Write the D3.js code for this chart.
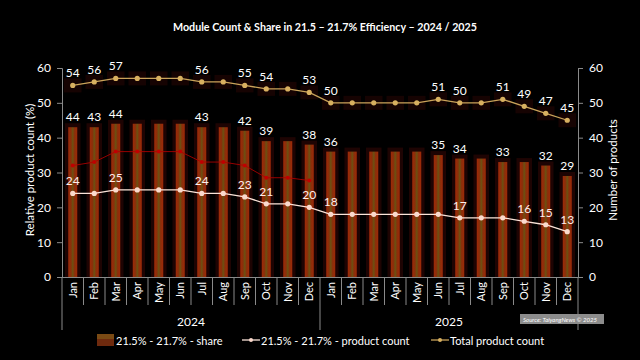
<!DOCTYPE html>
<html><head><meta charset="utf-8">
<script src="https://cdn.jsdelivr.net/npm/d3@7"></script>
<style>html,body{margin:0;padding:0;background:#000;}svg{display:block;}text{font-family:Lato,"Open Sans",sans-serif;}</style>
</head><body>
<svg id="c" width="640" height="360"></svg>
<script>
const months = ["Jan","Feb","Mar","Apr","May","Jun","Jul","Aug","Sep","Oct","Nov","Dec"];
const years = ["2024","2025"];
const shareValues = [43,43,44,44,44,44,43,43,42,39,39,38, 36,36,36,36,36,35,34,34,33,33,32,29];
const shareLabels = ["44","43","44",null,null,null,"43",null,"42","39",null,"38", "36",null,null,null,null,"35","34",null,"33",null,"32","29"];
const countValues = [24,24,25,25,25,25,24,24,23,21,21,20, 18,18,18,18,18,18,17,17,17,16,15,13];
const countLabels = ["24",null,"25",null,null,null,"24",null,"23","21",null,"20", "18",null,null,null,null,null,"17",null,null,"16","15","13"];
const totalValues = [55,56,57,57,57,57,56,56,55,54,54,53, 50,50,50,50,50,51,50,50,51,49,47,45];
const totalLabels = ["54","56","57",null,null,null,"56",null,"55","54",null,"53", "50",null,null,null,null,"51","50",null,"51","49","47","45"];
const ghostValues = [32,33,36,36,36,36,33,33,32,28.5,28.5,27.7];
const yTicks = [0,10,20,30,40,50,60];

const svg = d3.select("#c");
const W = 640, H = 360;
svg.append("rect").attr("width",W).attr("height",H).attr("fill","#000");

const cats = d3.range(24);
const x = d3.scaleBand().domain(cats).range([62,578]).paddingInner(0).paddingOuter(0);
const y = d3.scaleLinear().domain([0,60]).range([277,68]);
const y2 = d3.scaleLinear().domain([0,60]).range([277,68]);
const cx = i => x(i) + x.bandwidth()/2;

const defs = svg.append("defs");
const g = defs.append("linearGradient").attr("id","barg").attr("x1","0").attr("x2","1").attr("y1","0").attr("y2","0");
g.append("stop").attr("offset","0%").attr("stop-color","#a02808");
g.append("stop").attr("offset","30%").attr("stop-color","#8a300a");
g.append("stop").attr("offset","50%").attr("stop-color","#6a5212");
g.append("stop").attr("offset","70%").attr("stop-color","#8a300a");
g.append("stop").attr("offset","100%").attr("stop-color","#a02808");

// title
svg.append("text").attr("x",325).attr("y",31).attr("text-anchor","middle")
  .attr("fill","#fff").attr("font-size",10.7).attr("font-weight","bold")
  .text("Module Count & Share in 21.5 – 21.7% Efficiency – 2024 / 2025");

// halos behind total points
svg.append("g").selectAll("rect").data(totalValues).join("rect")
  .attr("x",(d,i)=>x(i)+2).attr("width",x.bandwidth()-4)
  .attr("y",d=>y2(d)-7).attr("height",14).attr("fill","#160302");

// bar halos
svg.append("g").selectAll("rect").data(shareValues).join("rect")
  .attr("x",(d,i)=>x(i)+3).attr("width",x.bandwidth()-6)
  .attr("y",d=>y(d)-4).attr("height",d=>y(0)-y(d)+4).attr("fill","#1e0403");
// bars
const bw = 9;
svg.append("g").selectAll("rect").data(shareValues).join("rect")
  .attr("x",(d,i)=>cx(i)-bw/2).attr("width",bw)
  .attr("y",d=>y(d)).attr("height",d=>y(0)-y(d)).attr("fill","url(#barg)");

// faint ghost line
svg.append("path").datum(ghostValues)
  .attr("d", d3.line().x((d,i)=>cx(i)).y(d=>y(d)))
  .attr("fill","none").attr("stroke","#b00000").attr("stroke-width",1).attr("opacity",0.85);
svg.append("g").selectAll("circle").data(ghostValues).join("circle")
  .attr("cx",(d,i)=>cx(i)).attr("cy",d=>y(d)).attr("r",2).attr("fill","#c00000");

// axes
const axL = svg.append("g").attr("transform","translate(62,0)")
  .call(d3.axisLeft(y).tickValues(yTicks).tickSize(5).tickPadding(6));
const axR = svg.append("g").attr("transform","translate(578,0)")
  .call(d3.axisRight(y2).tickValues(yTicks).tickSize(5).tickPadding(6));
[axL,axR].forEach(a=>{
  a.select(".domain").attr("stroke","#8a8a8a");
  a.selectAll(".tick line").attr("stroke","#8a8a8a");
  a.selectAll(".tick text").attr("fill","#fff").attr("font-size",12).style("font-family","Lato,'Open Sans',sans-serif");
});

// category axis
svg.append("line").attr("x1",62).attr("x2",578).attr("y1",277.5).attr("y2",277.5).attr("stroke","#8a8a8a");
svg.append("g").selectAll("line").data(d3.range(1,24).filter(i=>i!==12)).join("line")
  .attr("x1",i=>x(i)).attr("x2",i=>x(i)).attr("y1",277).attr("y2",305).attr("stroke","#8a8a8a");
svg.append("g").selectAll("line").data([0,12,24]).join("line")
  .attr("x1",i=>i===24?578:x(i)).attr("x2",i=>i===24?578:x(i)).attr("y1",277).attr("y2",330).attr("stroke","#8a8a8a");
svg.append("g").selectAll("text").data(cats).join("text")
  .attr("transform",i=>`translate(${cx(i)+4},282) rotate(-90)`)
  .attr("text-anchor","end").attr("fill","#fff").attr("font-size",11)
  .text(i=>months[i%12]);
svg.append("g").selectAll("text").data(years).join("text")
  .attr("x",(d,i)=>(x(i*12)+ (i===1?578:x(12)))/2).attr("y",326)
  .attr("text-anchor","middle").attr("fill","#fff").attr("font-size",12).text(d=>d);

// axis titles
svg.append("text").attr("transform","translate(34,170) rotate(-90)").attr("text-anchor","middle")
  .attr("fill","#fff").attr("font-size",11.5).text("Relative product count (%)");
svg.append("text").attr("transform","translate(617,170) rotate(-90)").attr("text-anchor","middle")
  .attr("fill","#fff").attr("font-size",11.5).text("Number of products");

// lines
const lineGen = d3.line().x((d,i)=>cx(i)).y(d=>y2(d));
svg.append("path").datum(totalValues).attr("d",lineGen).attr("fill","none").attr("stroke","#c9a35a").attr("stroke-width",1.3);
svg.append("g").selectAll("circle").data(totalValues).join("circle")
  .attr("cx",(d,i)=>cx(i)).attr("cy",d=>y2(d)).attr("r",2.6).attr("fill","#d8b060");
svg.append("path").datum(countValues).attr("d",lineGen).attr("fill","none").attr("stroke","#fbe3d8").attr("stroke-width",1.3);
svg.append("g").selectAll("circle").data(countValues).join("circle")
  .attr("cx",(d,i)=>cx(i)).attr("cy",d=>y2(d)).attr("r",2.6).attr("fill","#fcd9cc");

// data labels
function labels(vals, labs, scale, off, col){
  svg.append("g").selectAll("text").data(cats.filter(i=>labs[i]!==null)).join("text")
    .attr("x",i=>cx(i)).attr("y",i=>scale(vals[i])-off).attr("text-anchor","middle")
    .attr("fill",col).attr("font-size",12).text(i=>labs[i]);
}
labels(shareValues, shareLabels, y, 6, "#fff");
labels(countValues, countLabels, y2, 8, "#fff0ec");
labels(totalValues, totalLabels, y2, 8, "#fff");

// source box
svg.append("rect").attr("x",520).attr("y",314).attr("width",84).attr("height",10).attr("fill","#8c8c8c");
svg.append("text").attr("x",523).attr("y",321.5).attr("fill","#fff").attr("font-size",6).attr("font-style","italic")
  .text("Source: TaiyangNews © 2025");

// legend
const lg = svg.append("g");
lg.append("rect").attr("x",97).attr("y",334).attr("width",17).attr("height",12).attr("fill","#6e2a0e");
lg.append("rect").attr("x",97).attr("y",334).attr("width",17).attr("height",5).attr("fill","#7a4a14");
lg.append("text").attr("x",116).attr("y",344.5).attr("fill","#fff").attr("font-size",11).text("21.5% - 21.7% - share");
lg.append("line").attr("x1",242).attr("x2",260).attr("y1",340).attr("y2",340).attr("stroke","#fbe3d8").attr("stroke-width",1.3);
lg.append("circle").attr("cx",251).attr("cy",340).attr("r",2).attr("fill","#fcd9cc");
lg.append("text").attr("x",261).attr("y",344.5).attr("fill","#fff").attr("font-size",11).text("21.5% - 21.7% - product count");
lg.append("line").attr("x1",431).attr("x2",449).attr("y1",340).attr("y2",340).attr("stroke","#c9a35a").attr("stroke-width",1.3);
lg.append("circle").attr("cx",440).attr("cy",340).attr("r",2).attr("fill","#d8b060");
lg.append("text").attr("x",450).attr("y",344.5).attr("fill","#fff").attr("font-size",11).text("Total product count");
</script>
</body></html>
